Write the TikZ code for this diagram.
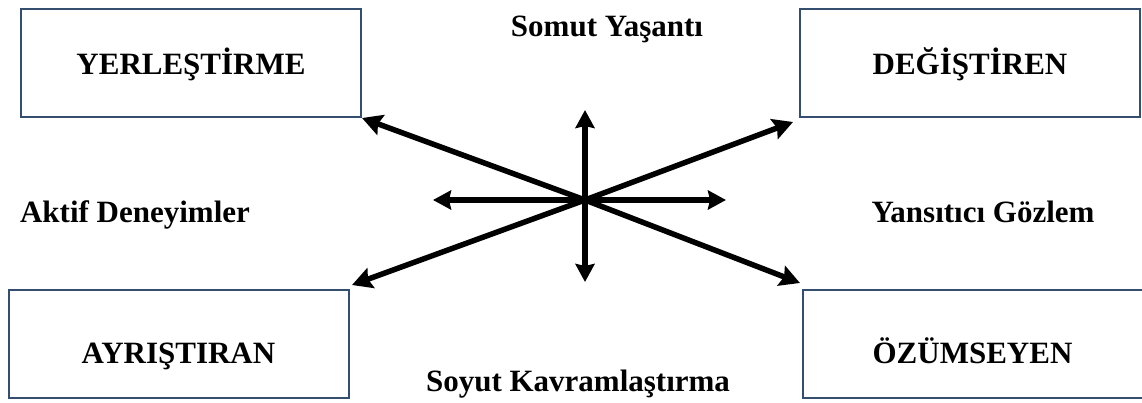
\documentclass[tikz,border=0pt]{standalone}
\usepackage{fontspec}
\setmainfont{Liberation Serif}
\usetikzlibrary{arrows.meta}
\definecolor{boxblue}{RGB}{52,78,112}

\begin{document}
\begin{tikzpicture}[x=1pt, y=-1pt]
  \tikzset{
    box_node/.style={rectangle, draw=boxblue, line width=2pt, minimum width=340pt, minimum height=108pt, text height=24pt, text depth=0pt, font=\fontsize{31}{37}\selectfont\bfseries},
    low_text/.style={text height=40pt},
    label_node/.style={draw=none, fill=none, anchor=base, font=\fontsize{31}{37}\selectfont\bfseries},
    one_arrow/.style={line width=5.5pt, -{Stealth[length=20pt, width=21pt, inset=3pt]}},
    two_arrow/.style={line width=5.5pt, {Stealth[length=18pt, width=19pt, inset=2pt]}-{Stealth[length=18pt, width=19pt, inset=2pt]}}
  }
  \useasboundingbox (0,0) rectangle (1142,403);

  % Cajas de los estilos
  \node[box_node] (yer) at (191,63) {YERLEŞTİRME};
  \node[box_node] (deg) at (970,63) {DEĞİŞTİREN};
  \node[box_node, low_text] (ayr) at (178.5,343.5) {AYRIŞTIRAN};
  \node[box_node, low_text] (ozu) at (972.5,343.5) {ÖZÜMSEYEN};

  % Etiquetas de los ejes
  \node[label_node] (somut) at (607,37) {Somut Yaşantı};
  \node[label_node] (aktif) at (135,223) {Aktif Deneyimler};
  \node[label_node] (yans) at (983,223) {Yansıtıcı Gözlem};
  \node[label_node] (soyut) at (578,391) {Soyut Kavramlaştırma};

  % Centro y extremos de las flechas
  \coordinate (c) at (585,200);
  \coordinate (c_top) at (585,110);
  \coordinate (c_bot) at (585,282);
  \coordinate (c_left) at (433,200);
  \coordinate (c_right) at (726,200);
  \coordinate (t_yer) at (362,118);
  \coordinate (t_deg) at (793,122);
  \coordinate (t_ayr) at (352,285);
  \coordinate (t_ozu) at (800,283);

  % Ejes
  \draw[two_arrow] (c_bot) -- (c_top);
  \draw[two_arrow] (c_left) -- (c_right);

  % Diagonales hacia las cajas
  \draw[one_arrow] (c) -- (t_yer);
  \draw[one_arrow] (c) -- (t_deg);
  \draw[one_arrow] (c) -- (t_ayr);
  \draw[one_arrow] (c) -- (t_ozu);
\end{tikzpicture}
\end{document}
